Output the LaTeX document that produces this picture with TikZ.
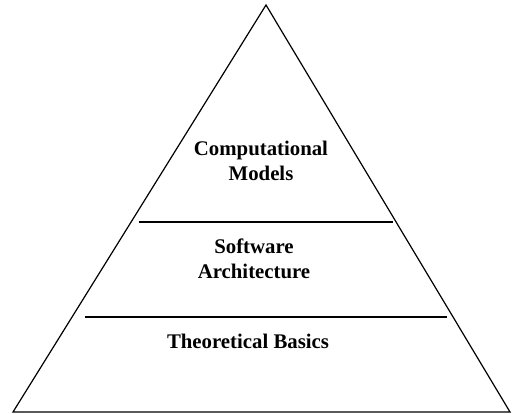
\documentclass[tikz,border=0pt]{standalone}
\usepackage{fontspec}
\setmainfont{Liberation Serif}
\usepackage{tikz}

\begin{document}
\begin{tikzpicture}[x=1pt,y=-1pt,
    layer/.style={font=\bfseries\fontsize{20.8}{25}\selectfont,align=center,inner sep=0pt}]
\useasboundingbox (0,0) rectangle (513,414);
\coordinate (top) at (266,5);
\coordinate (bl) at (13,412);
\coordinate (br) at (510,412);
\coordinate (l1) at (139,222);
\coordinate (r1) at (393,222);
\coordinate (l2) at (85,317);
\coordinate (r2) at (447,317);
\draw[line width=1.2pt,line join=miter] (top) -- (br) -- (bl) -- cycle;
\draw[line width=2pt] (l1) -- (r1);
\draw[line width=2pt] (l2) -- (r2);
\node[layer] (models) at (261,160.5) {Computational\\Models};
\node[layer] (arch) at (254,258.5) {Software\\Architecture};
\node[layer] (basics) at (248,341) {Theoretical Basics};
\end{tikzpicture}
\end{document}
